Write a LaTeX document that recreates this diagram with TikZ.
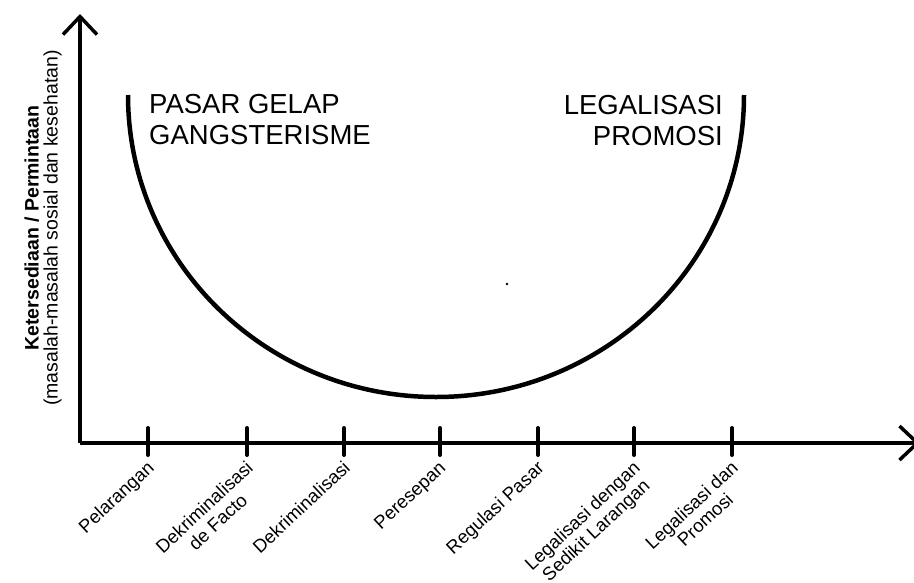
\documentclass[tikz,border=0pt]{standalone}
\usepackage{fontspec}
\setmainfont{Liberation Sans}
\usetikzlibrary{arrows.meta}
\tikzset{
  sumbu/.style={line width=3.5pt,-{Straight Barb[length=18pt,width=34pt]}},
  kurva/.style={line width=4.5pt},
  takik/.style={line width=4pt,line cap=round},
  judul/.style={inner sep=0pt,font=\fontsize{27.5}{31}\selectfont},
  lbl/.style={rotate=43,anchor=north east,inner sep=1pt,align=center,font=\fontsize{18.5}{20}\selectfont}
}
\begin{document}
\begin{tikzpicture}[x=1pt,y=1pt]
\useasboundingbox (0,0) rectangle (914,-582);
% sumbu
\coordinate (O) at (80,-443);
\coordinate (ytop) at (80,-14);
\coordinate (xend) at (920,-443);
\draw[sumbu] (O) -- (ytop);
\draw[sumbu] (O) -- (xend);
\node[rotate=90,align=center,font=\fontsize{19.5}{19}\selectfont] (ylabel) at (43,-228)
  {\textbf{Ketersediaan / Permintaan}\\(masalah-masalah sosial dan kesehatan)};
% kurva U
\coordinate (kiri) at (128,-95);
\draw[kurva] (kiri) arc[start angle=180,end angle=360,x radius=308pt,y radius=302pt] coordinate (kanan);
\fill (507,-284) circle (1.3pt);
% teks atas
\node[judul,anchor=north west,align=left] (gelap) at (149,-94) {PASAR GELAP\\GANGSTERISME};
\node[judul,anchor=north east,align=right] (promosi) at (723,-95) {LEGALISASI\\PROMOSI};
% takik
\draw[takik] (148,-428) -- (148,-455) coordinate (t1);
\draw[takik] (247,-428) -- (247,-455) coordinate (t2);
\draw[takik] (344,-428) -- (344,-455) coordinate (t3);
\draw[takik] (440,-428) -- (440,-455) coordinate (t4);
\draw[takik] (538,-428) -- (538,-455) coordinate (t5);
\draw[takik] (634,-428) -- (634,-455) coordinate (t6);
\draw[takik] (732,-428) -- (732,-455) coordinate (t7);
% label sumbu x
\node[lbl] (larang) at ([shift={(-2,-3)}]t1) {Pelarangan};
\node[lbl] (defacto) at ([shift={(-2,-3)}]t2) {Dekriminalisasi\\de Facto};
\node[lbl] (dekrim) at ([shift={(-2,-3)}]t3) {Dekriminalisasi};
\node[lbl] (resep) at ([shift={(-2,-3)}]t4) {Peresepan};
\node[lbl] (regulasi) at ([shift={(-2,-3)}]t5) {Regulasi Pasar};
\node[lbl] (sedikit) at ([shift={(-2,-3)}]t6) {Legalisasi dengan\\Sedikit Larangan};
\node[lbl] (legal) at ([shift={(-2,-3)}]t7) {Legalisasi dan\\Promosi};
\end{tikzpicture}
\end{document}
